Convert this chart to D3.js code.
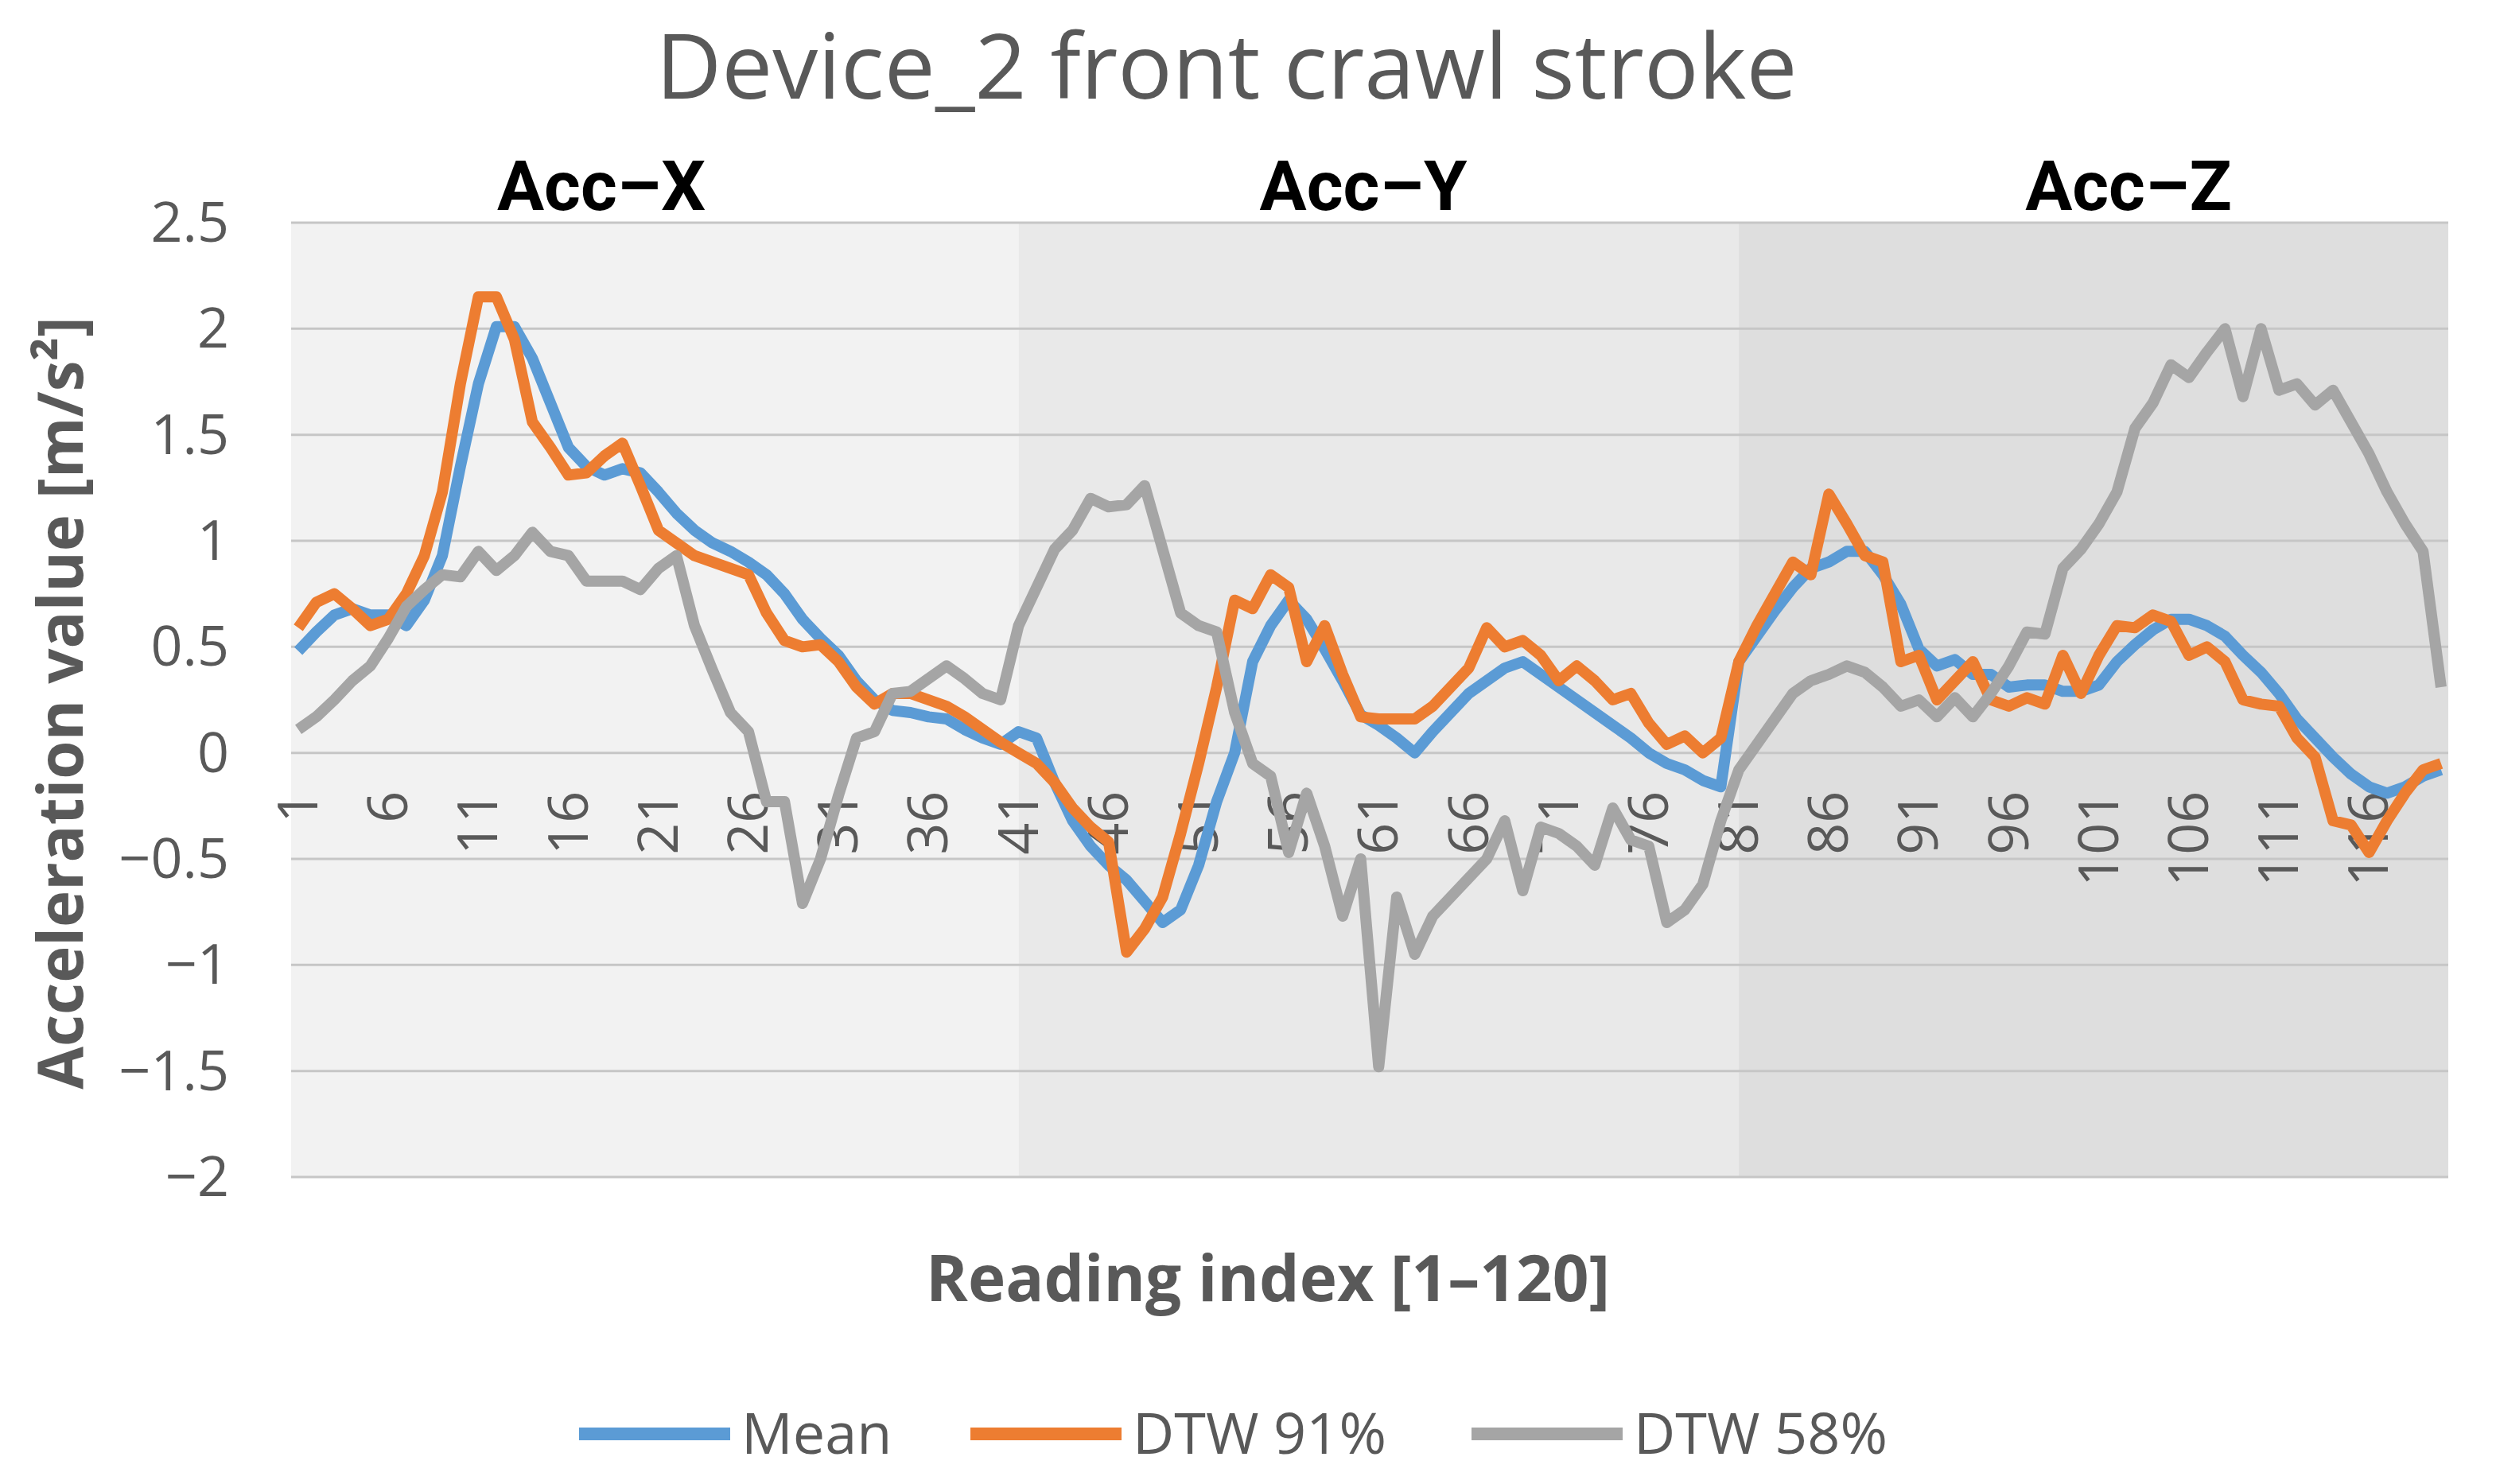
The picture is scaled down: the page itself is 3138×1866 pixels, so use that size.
<!DOCTYPE html>
<html><head><meta charset="utf-8">
<script src="https://cdn.jsdelivr.net/npm/d3@7"></script>
<style>body{margin:0;background:#fff}</style></head>
<body><svg id="c" width="3138" height="1866"></svg>
<script>
const meanVals=[0.48,0.57,0.65,0.68,0.65,0.65,0.6,0.72,0.93,1.35,1.74,2.01,2.01,1.86,1.65,1.44,1.35,1.31,1.34,1.32,1.23,1.13,1.05,0.99,0.95,0.9,0.84,0.75,0.63,0.54,0.46,0.34,0.25,0.2,0.19,0.17,0.16,0.11,0.07,0.04,
0.1,0.07,-0.14,-0.32,-0.44,-0.53,-0.6,-0.7,-0.8,-0.74,-0.53,-0.23,0.0,0.43,0.6,0.72,0.63,0.49,0.34,0.18,0.13,0.07,0.0,0.1,0.19,0.28,0.34,0.4,0.43,0.37,0.31,0.25,0.19,0.13,0.07,0.0,-0.05,-0.08,-0.13,-0.16,
0.43,0.55,0.67,0.78,0.87,0.9,0.95,0.95,0.84,0.7,0.49,0.41,0.44,0.37,0.37,0.31,0.32,0.32,0.29,0.29,0.32,0.43,0.51,0.58,0.63,0.63,0.6,0.55,0.46,0.38,0.28,0.16,0.07,-0.02,-0.1,-0.16,-0.19,-0.16,-0.11,-0.08];
const dtw91Vals=[0.59,0.71,0.75,0.68,0.6,0.63,0.75,0.93,1.23,1.74,2.15,2.15,1.95,1.56,1.44,1.31,1.32,1.4,1.46,1.26,1.05,0.99,0.93,0.9,0.87,0.84,0.66,0.53,0.5,0.51,0.43,0.31,0.23,0.28,0.28,0.25,0.22,0.17,0.11,0.05,
0.0,-0.05,-0.14,-0.26,-0.35,-0.42,-0.94,-0.83,-0.68,-0.38,-0.05,0.31,0.72,0.68,0.84,0.78,0.43,0.6,0.37,0.17,0.16,0.16,0.16,0.22,0.31,0.4,0.59,0.5,0.53,0.46,0.34,0.41,0.34,0.25,0.28,0.14,0.04,0.08,0.0,0.07,
0.43,0.6,0.75,0.9,0.84,1.22,1.08,0.93,0.9,0.43,0.46,0.25,0.34,0.43,0.25,0.22,0.26,0.23,0.46,0.28,0.46,0.6,0.59,0.65,0.62,0.46,0.5,0.43,0.25,0.23,0.22,0.07,-0.02,-0.32,-0.34,-0.47,-0.32,-0.19,-0.08,-0.05];
const dtw58Vals=[0.11,0.17,0.25,0.34,0.41,0.54,0.69,0.77,0.84,0.83,0.95,0.86,0.93,1.04,0.95,0.93,0.81,0.81,0.81,0.77,0.87,0.93,0.6,0.39,0.19,0.1,-0.23,-0.23,-0.71,-0.5,-0.2,0.07,0.1,0.28,0.29,0.35,0.41,0.35,0.28,0.25,
0.6,0.78,0.96,1.05,1.2,1.16,1.17,1.26,0.96,0.66,0.6,0.57,0.19,-0.05,-0.11,-0.47,-0.19,-0.44,-0.77,-0.5,-1.48,-0.68,-0.95,-0.77,-0.68,-0.59,-0.5,-0.32,-0.65,-0.35,-0.38,-0.44,-0.53,-0.26,-0.41,-0.44,-0.8,-0.74,-0.62,-0.32,
-0.08,0.04,0.16,0.28,0.34,0.37,0.41,0.38,0.31,0.22,0.25,0.17,0.26,0.17,0.28,0.41,0.57,0.56,0.87,0.96,1.08,1.23,1.53,1.65,1.83,1.77,1.89,2.0,1.68,2.0,1.71,1.74,1.64,1.71,1.56,1.41,1.23,1.08,0.95,0.31];
const yTicks=[2.5,2,1.5,1,0.5,0,-0.5,-1,-1.5,-2];
const sections=[{name:"Acc\u2013X",from:1,to:40},{name:"Acc\u2013Y",from:41,to:80},{name:"Acc\u2013Z",from:81,to:120}];
const seriesNames=["Mean","DTW 91%","DTW 58%"];
const colors=["#5b9bd5","#ed7d31","#a5a5a5"];
const idx=d3.range(1,121);
const svg=d3.select("#c");
const L=366,R=3078,T=280,B=1480;
const x=d3.scaleLinear().domain([0.6,120.4]).range([L,R]);
const y=d3.scaleLinear().domain([-2,2.5]).range([B,T]);
const bg=["#f2f2f2","#e9e9e9","#dedede"];
const labelCx=[756,1714,2676];
sections.forEach((s,i)=>{
  const x0=i==0?L:x(s.from), x1=i==2?R:x(s.to+1);
  svg.append("rect").attr("x",x0).attr("y",T).attr("width",x1-x0).attr("height",B-T).attr("fill",bg[i]);
  svg.append("text").attr("x",labelCx[i]).attr("y",264).attr("text-anchor","middle").attr("font-family","Roboto, Arial, sans-serif").attr("font-weight","bold").attr("font-size",88).attr("fill","#000").text(s.name);
});
svg.append("g").selectAll("line").data(yTicks).join("line").attr("x1",L).attr("x2",R).attr("y1",d=>y(d)).attr("y2",d=>y(d)).attr("stroke","#c6c6c6").attr("stroke-width",3);
svg.append("g").selectAll("text").data(yTicks).join("text").attr("x",288).attr("y",d=>y(d)+24).attr("text-anchor","end").attr("font-family","Open Sans, sans-serif").attr("font-size",70).attr("fill","#595959").text(d=>String(d).replace("-","\u2212"));
svg.append("g").selectAll("text").data(idx.filter(i=>(i-1)%5==0)).join("text")
 .attr("transform",d=>`translate(${x(d)+24},${y(0)+48}) rotate(-90)`).attr("text-anchor","end")
 .attr("font-family","Open Sans, sans-serif").attr("font-size",70).attr("fill","#595959").text(d=>d);
const line=d3.line().x((d,i)=>x(i+1)).y(d=>y(d));
[meanVals,dtw91Vals,dtw58Vals].forEach((v,k)=>{
  svg.append("path").datum(v).attr("d",line).attr("fill","none").attr("stroke",colors[k]).attr("stroke-width",14).attr("stroke-linejoin","round");
});
svg.append("text").attr("x",1542).attr("y",124).attr("text-anchor","middle").attr("font-family","Open Sans, sans-serif").attr("font-size",114).attr("fill","#595959").text("Device_2 front crawl stroke");
svg.append("text").attr("transform",`translate(104,${(T+B)/2+4}) rotate(-90)`).attr("text-anchor","middle").attr("font-family","Open Sans, sans-serif").attr("font-weight","bold").attr("font-size",78).attr("fill","#595959").text("Acceleration value [m/s\u00b2]");
svg.append("text").attr("x",1594).attr("y",1636).attr("text-anchor","middle").attr("font-family","Open Sans, sans-serif").attr("font-weight","bold").attr("font-size",80).attr("fill","#595959").text("Reading index [1\u2013120]");
const lx=[728,1220,1850];
seriesNames.forEach((n,k)=>{
  svg.append("line").attr("x1",lx[k]).attr("x2",lx[k]+190).attr("y1",1803).attr("y2",1803).attr("stroke",colors[k]).attr("stroke-width",16);
  svg.append("text").attr("x",lx[k]+204).attr("y",1828).attr("font-family","Open Sans, sans-serif").attr("font-size",72).attr("fill","#595959").text(n);
});
</script></body></html>
